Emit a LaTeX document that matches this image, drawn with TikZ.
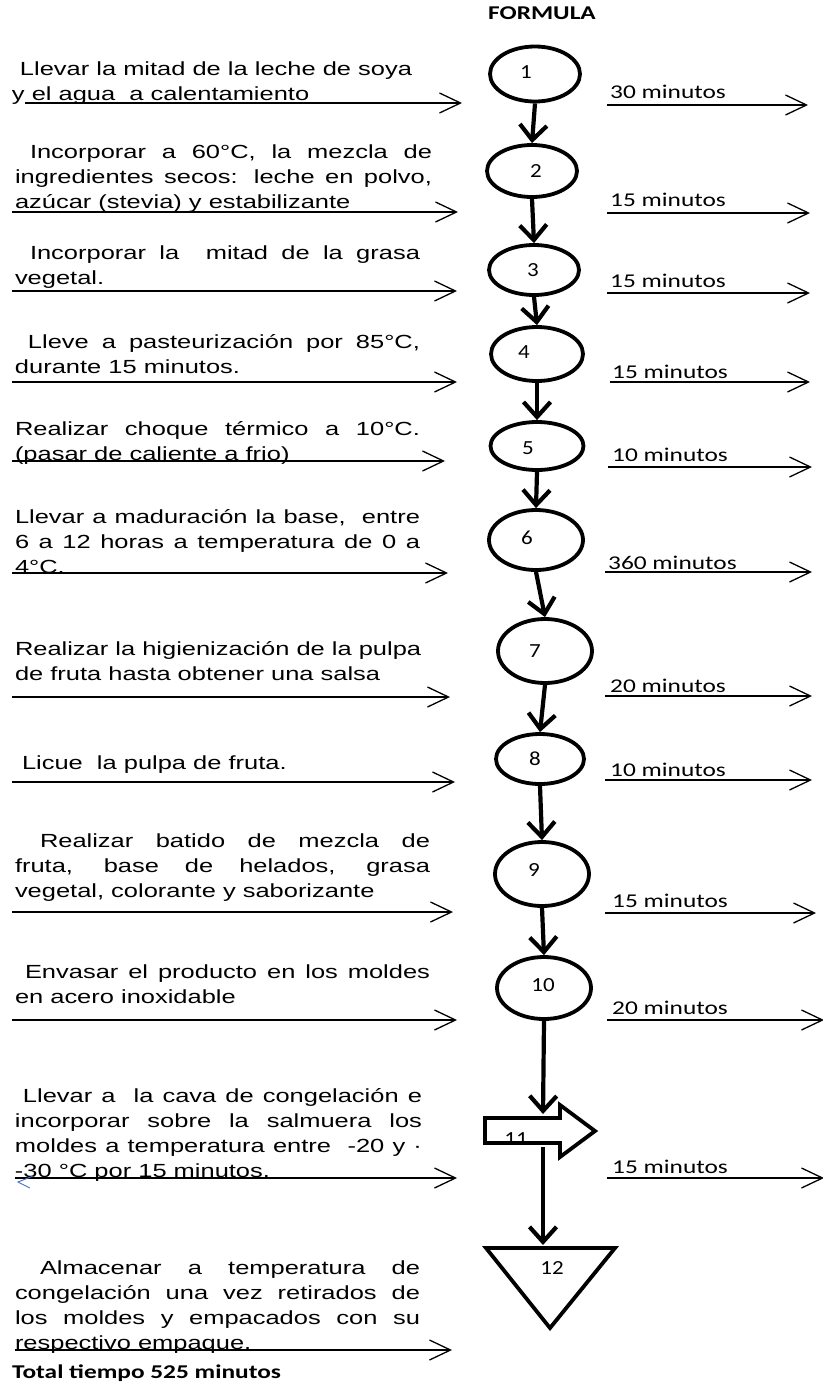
\documentclass[tikz,border=0pt]{standalone}
\usepackage{fontspec}
\setmainfont{Liberation Sans}[FakeStretch=1.34]
\newfontfamily\calfont{Carlito}[FakeStretch=1.3]
\newfontfamily\numfont{Carlito}[FakeStretch=1.15]
\usetikzlibrary{arrows.meta,shapes.geometric}
\newcommand{\jl}[1]{\makebox[\linewidth][s]{#1}}
\begin{document}
\begin{tikzpicture}[x=1pt,y=-1pt,
  desc/.style={anchor=base west,inner sep=0pt,outer sep=0pt,font=\fontsize{19}{25}\selectfont},
  mins/.style={anchor=base west,inner sep=0pt,font=\calfont\fontsize{19.5}{22}\selectfont},
  opnode/.style={draw,ellipse,line width=3.8pt,inner sep=0pt},
  numlab/.style={inner sep=0pt,font=\numfont\fontsize{20}{22}\selectfont},
  flow/.style={line width=4.2pt,-{Straight Barb[length=15pt,width=27pt]}},
  feed/.style={line width=1.3pt,-{Straight Barb[length=21pt,width=20pt]}},
  shapeline/.style={line width=3.8pt,line join=miter},
]
\useasboundingbox (0,0) rectangle (822,1384);

% title
\node[anchor=base,inner sep=0pt,font=\calfont\bfseries\fontsize{19.5}{22}\selectfont] (title) at (542,19) {FORMULA};

% operation ellipses
\node[opnode,minimum width=90pt,minimum height=55pt] (c1) at (535,74) {};
\node[opnode,minimum width=90pt,minimum height=52pt] (c2) at (532,171) {};
\node[opnode,minimum width=90pt,minimum height=50pt] (c3) at (534,270) {};
\node[opnode,minimum width=92pt,minimum height=54pt] (c4) at (537,354) {};
\node[opnode,minimum width=93pt,minimum height=48pt] (c5) at (537,446) {};
\node[opnode,minimum width=94pt,minimum height=60pt] (c6) at (536,540) {};
\node[opnode,minimum width=94pt,minimum height=64pt] (c7) at (545,651) {};
\node[opnode,minimum width=88pt,minimum height=50pt] (c8) at (540,759) {};
\node[opnode,minimum width=94pt,minimum height=64pt] (c9) at (542,874) {};
\node[opnode,minimum width=94pt,minimum height=62pt] (c10) at (544,988) {};

\node[numlab] (n1) at (526,72) {1};
\node[numlab] (n2) at (536,171) {2};
\node[numlab] (n3) at (533,270) {3};
\node[numlab] (n4) at (524,352) {4};
\node[numlab] (n5) at (528,448) {5};
\node[numlab] (n6) at (527,538) {6};
\node[numlab] (n7) at (535,651) {7};
\node[numlab] (n8) at (535,759) {8};
\node[numlab] (n9) at (534,870) {9};
\node[numlab] (n10) at (543,985) {10};

% block arrow 11
\node[numlab,anchor=base] (n11) at (516,1145) {11};
\draw[shapeline] (485,1118) -- (560,1118) -- (560,1105) -- (595,1131) -- (560,1157) -- (560,1143) -- (485,1143) -- cycle;
\coordinate (b11top) at (543,1114);
\coordinate (b11bot) at (543,1147);

% triangle 12
\draw[shapeline] (486,1248) -- (615,1248) -- (550,1328) -- cycle;
\node[numlab] (n12) at (552,1268) {12};
\coordinate (t12top) at (543,1245);

% main flow
\draw[flow] (c1.south) -- (c2.north);
\draw[flow] (c2.south) -- (c3.north);
\draw[flow] (c3.south) -- (c4.north);
\draw[flow] (c4.south) -- (c5.north);
\draw[flow] (c5.south) -- (c6.north);
\draw[flow] (c6.south) -- (c7.north);
\draw[flow] (c7.south) -- (c8.north);
\draw[flow] (c8.south) -- (c9.north);
\draw[flow] (c9.south) -- (c10.north);
\draw[flow] (c10.south) -- (b11top);
\draw[flow] (b11bot) -- (t12top);

% descriptions
\node[desc] (d1) at (12,100) {\parbox[b]{440pt}{\hspace*{8pt}Llevar la mitad de la leche de soya\\y el agua\ \ a calentamiento}};
\node[desc] (d2) at (15,208) {\parbox[b]{417pt}{\jl{\hspace*{15pt}Incorporar a 60°C, la mezcla de}\\\jl{ingredientes secos: leche en polvo,}\\azúcar (stevia) y estabilizante}};
\node[desc] (d3) at (15,284) {\parbox[b]{405pt}{\jl{\hspace*{15pt}Incorporar la\ \ mitad de la grasa}\\vegetal.}};
\node[desc] (d4) at (15,373) {\parbox[b]{405pt}{\jl{\hspace*{13pt}Lleve a pasteurización por 85°C,}\\durante 15 minutos.}};
\node[desc] (d5) at (15,460) {\parbox[b]{405pt}{\jl{Realizar choque térmico a 10°C.}\\(pasar de caliente a frio)}};
\node[desc] (d6) at (15,573) {\parbox[b]{405pt}{\jl{Llevar a maduración la base,\ \ entre}\\\jl{6 a 12 horas a temperatura de 0 a}\\4°C.}};
\node[desc] (d7) at (15,680) {\parbox[b]{415pt}{Realizar la higienización de la pulpa\\de fruta hasta obtener una salsa}};
\node[desc] (d8) at (15,769) {\parbox[b]{405pt}{\hspace*{7pt}Licue\ \ la pulpa de fruta.}};
\node[desc] (d9) at (15,897) {\parbox[b]{415pt}{\jl{\hspace*{25pt}Realizar batido de mezcla de}\\\jl{fruta, base de helados, grasa}\\vegetal, colorante y saborizante}};
\node[desc] (d10) at (15,1003) {\parbox[b]{415pt}{\jl{\hspace*{10pt}Envasar el producto en los moldes}\\en acero inoxidable}};
\node[desc] (d11) at (15,1177) {\parbox[b]{407pt}{\jl{\hspace*{8pt}Llevar a\ \ la cava de congelación e}\\\jl{incorporar sobre la salmuera los}\\\jl{moldes a temperatura entre\ \ -20 y ·}\\-30 °C por 15 minutos.}};
\node[desc] (d12) at (15,1349) {\parbox[b]{405pt}{\jl{\hspace*{25pt}Almacenar a temperatura de}\\\jl{congelación una vez retirados de}\\\jl{los moldes y empacados con su}\\respectivo empaque.}};

% left input arrows
\coordinate (l1s) at (25,103);   \coordinate (l1e) at (462,103);
\coordinate (l2s) at (12,212);   \coordinate (l2e) at (458,212);
\coordinate (l3s) at (12,291);   \coordinate (l3e) at (457,291);
\coordinate (l4s) at (12,382);   \coordinate (l4e) at (457,382);
\coordinate (l5s) at (12,461);   \coordinate (l5e) at (445,461);
\coordinate (l6s) at (12,573);   \coordinate (l6e) at (448,573);
\coordinate (l7s) at (12,697);   \coordinate (l7e) at (450,697);
\coordinate (l8s) at (12,782);   \coordinate (l8e) at (455,782);
\coordinate (l9s) at (12,912);   \coordinate (l9e) at (453,912);
\coordinate (l10s) at (12,1020); \coordinate (l10e) at (457,1020);
\coordinate (l11s) at (15,1178); \coordinate (l11e) at (457,1178);
\coordinate (l12s) at (15,1350); \coordinate (l12e) at (452,1350);
\foreach \i in {1,...,12} {\draw[feed] (l\i s) -- (l\i e);}

% stray blue mark
\draw[line width=0.9pt,color={rgb,255:red,70;green,110;blue,200}] (33,1176) -- (18,1182) -- (30,1188);

% right output arrows with times
\coordinate (r1s) at (607,105);  \coordinate (r1e) at (808,105);
\coordinate (r2s) at (607,213);  \coordinate (r2e) at (810,213);
\coordinate (r3s) at (607,293);  \coordinate (r3e) at (810,293);
\coordinate (r4s) at (610,382);  \coordinate (r4e) at (810,382);
\coordinate (r5s) at (608,467);  \coordinate (r5e) at (812,467);
\coordinate (r6s) at (605,572);  \coordinate (r6e) at (812,572);
\coordinate (r7s) at (605,696);  \coordinate (r7e) at (812,696);
\coordinate (r8s) at (605,780);  \coordinate (r8e) at (812,780);
\coordinate (r9s) at (605,913);  \coordinate (r9e) at (816,913);
\coordinate (r10s) at (607,1020); \coordinate (r10e) at (824,1020);
\coordinate (r11s) at (607,1178); \coordinate (r11e) at (824,1178);
\foreach \i in {1,...,11} {\draw[feed] (r\i s) -- (r\i e);}

\node[mins] (m1) at (610,98) {30 minutos};
\node[mins] (m2) at (610,206) {15 minutos};
\node[mins] (m3) at (610,287) {15 minutos};
\node[mins] (m4) at (612,378) {15 minutos};
\node[mins] (m5) at (612,461) {10 minutos};
\node[mins] (m6) at (608,569) {360 minutos};
\node[mins] (m7) at (610,692) {20 minutos};
\node[mins] (m8) at (610,776) {10 minutos};
\node[mins] (m9) at (612,907) {15 minutos};
\node[mins] (m10) at (612,1014) {20 minutos};
\node[mins] (m11) at (612,1173) {15 minutos};

% total
\node[anchor=base west,inner sep=0pt,font=\calfont\bfseries\fontsize{19.5}{22}\selectfont] (total) at (12,1378) {Total tiempo 525 minutos};
\end{tikzpicture}
\end{document}
